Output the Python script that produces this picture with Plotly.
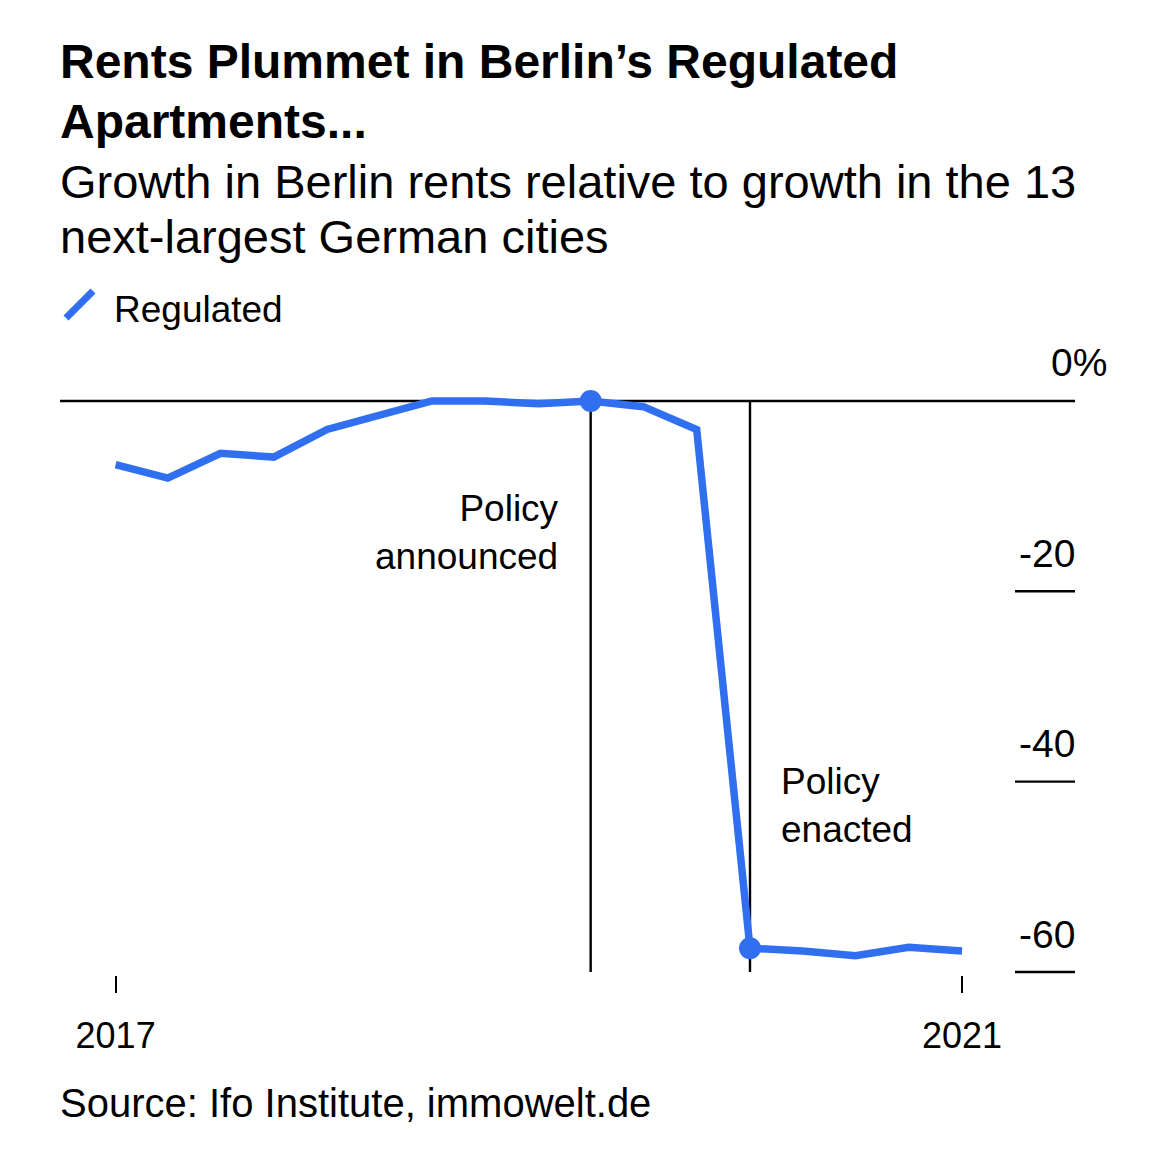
import plotly.graph_objects as go

# ---- data ----
dates = ["2017-01-01", "2017-04-01", "2017-07-01", "2017-10-01",
         "2018-01-01", "2018-04-01", "2018-07-01", "2018-10-01",
         "2019-01-01", "2019-04-01", "2019-07-01", "2019-10-01",
         "2020-01-01", "2020-04-01", "2020-07-01", "2020-10-01",
         "2021-01-01"]
regulated = [-6.7, -8.1, -5.5, -5.9, -3.0, -1.5, 0.0, 0.0, -0.3, 0.0,
             -0.6, -3.0, -57.5, -57.8, -58.3, -57.4, -57.8]
policy_dates = ["2019-04-01", "2020-01-01"]
policy_labels = ["Policy<br>announced", "Policy<br>enacted"]
ytick_vals = [0, -20, -40, -60]
ytick_text = ["0%", "-20", "-40", "-60"]
xtick_vals = ["2017-01-01", "2021-01-01"]
xtick_text = ["2017", "2021"]

BLUE = "#2f6ff0"
FONT = "Liberation Sans"

W, H = 1169, 1158
OFF = 8  # page body offset
L, R, T, B = 60 - OFF, 1075 - OFF, 380 - OFF, 975 - OFF


def pxp(p):
    return (p - OFF - L) / (R - L)


def pyp(p):
    return (B - (p - OFF)) / (B - T)


fig = go.Figure()
fig.add_trace(go.Scatter(x=dates, y=regulated, mode="lines",
                         line=dict(color=BLUE, width=7.5),
                         name="Regulated", showlegend=False,
                         hoverinfo="skip"))
mk_y = [regulated[dates.index(d)] for d in policy_dates]
fig.add_trace(go.Scatter(x=policy_dates, y=mk_y, mode="markers",
                         marker=dict(color=BLUE, size=22),
                         showlegend=False, hoverinfo="skip"))

shapes = []
shapes.append(dict(type="line", xref="paper", yref="y", x0=0, x1=1,
                   y0=0, y1=0, line=dict(color="black", width=2.4),
                   layer="below"))
for v in ytick_vals[1:]:
    shapes.append(dict(type="line", xref="paper", yref="y", x0=pxp(1015),
                       x1=1, y0=v, y1=v, line=dict(color="black", width=2.4)))
for d in policy_dates:
    shapes.append(dict(type="line", xref="x", yref="y", x0=d, x1=d,
                       y0=0, y1=-60, line=dict(color="black", width=2.4),
                       layer="below"))
shapes.append(dict(type="line", xref="paper", yref="paper",
                   x0=pxp(66), x1=pxp(93), y0=pyp(318), y1=pyp(291),
                   line=dict(color=BLUE, width=7)))

ann = []
for v, t in zip(ytick_vals, ytick_text):
    ann.append(dict(x=1, xref="paper", y=v, yref="y", text=t,
                    xanchor="right", yanchor="middle",
                    xshift=34 if v == 0 else 2,
                    yshift=38, showarrow=False,
                    font=dict(size=39, color="black", family=FONT)))
ann.append(dict(x=policy_dates[0], xref="x", y=-13.8, yref="y",
                text=policy_labels[0], xanchor="right", yanchor="middle",
                align="right", xshift=-30, showarrow=False,
                font=dict(size=37, color="black", family=FONT)))
ann.append(dict(x=policy_dates[1], xref="x", y=-42.5, yref="y",
                text=policy_labels[1], xanchor="left", yanchor="middle",
                align="left", xshift=29, showarrow=False,
                font=dict(size=37, color="black", family=FONT)))


def txt(text, x, y, size, bold=False):
    return dict(x=pxp(x), y=pyp(y), xref="paper", yref="paper", text=text,
                xanchor="left", yanchor="middle", showarrow=False,
                font=dict(size=size, color="black",
                          family=FONT, weight="bold" if bold else "normal"))


ann.append(txt("Rents Plummet in Berlin’s Regulated", 58, 62, 48, True))
ann.append(txt("Apartments...", 58, 121, 48, True))
ann.append(txt("Growth in Berlin rents relative to growth in the 13", 58, 181, 47))
ann.append(txt("next-largest German cities", 58, 237, 47))
ann.append(txt("Regulated", 112, 309, 37))
ann.append(txt("Source: Ifo Institute, immowelt.de", 58, 1103, 40))

fig.update_layout(
    width=W, height=H,
    margin=dict(l=L, r=W - R, t=T, b=H - B, pad=0),
    paper_bgcolor="white", plot_bgcolor="white",
    shapes=shapes, annotations=ann,
    showlegend=False,
    xaxis=dict(type="date", range=["2016-09-27", "2021-07-15"],
               tickvals=xtick_vals, ticktext=xtick_text,
               ticks="outside", ticklen=17, tickwidth=2.4,
               tickcolor="black", showgrid=False, zeroline=False,
               showline=False, ticklabelstandoff=12,
               tickfont=dict(size=36, color="black", family=FONT)),
    yaxis=dict(range=[-60.315, 2.2], showgrid=False, zeroline=False,
               showline=False, showticklabels=False, ticks=""),
)

fig.write_html("out.html")
